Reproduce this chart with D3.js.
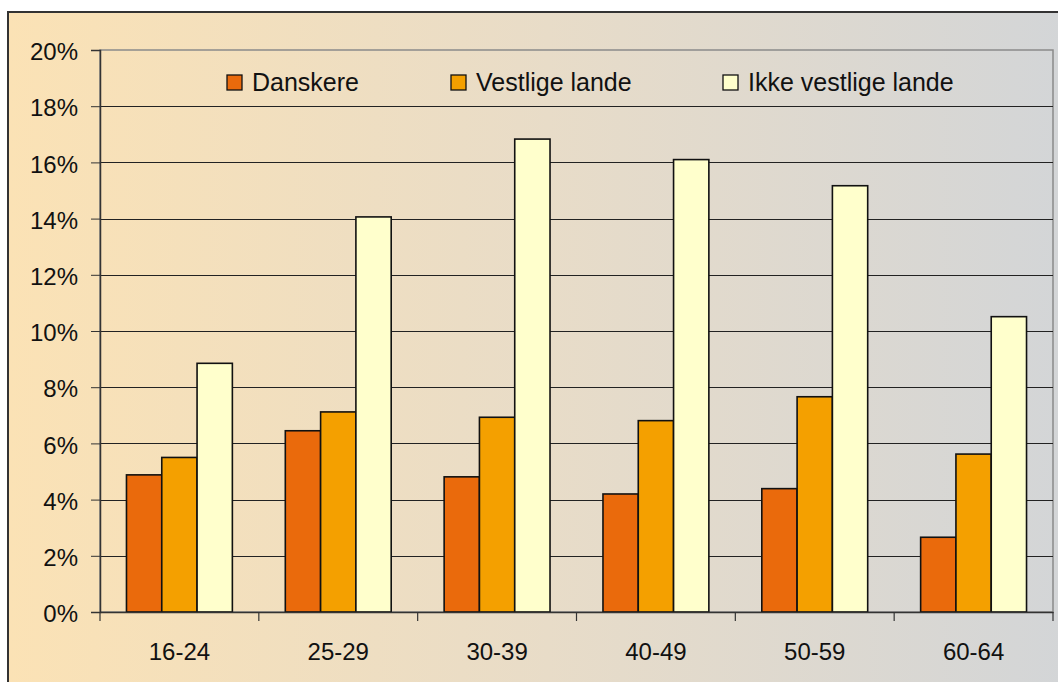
<!DOCTYPE html>
<html>
<head>
<meta charset="utf-8">
<script src="https://cdn.jsdelivr.net/npm/d3@7"></script>
<style>
  body { margin: 0; background: #fff; }
  svg { display: block; font-family: "Liberation Sans", Arial, sans-serif; }
</style>
</head>
<body>
<svg id="chart" width="1058" height="682"></svg>
<script>
// --- Data ---
const categories = ['16-24', '25-29', '30-39', '40-49', '50-59', '60-64'];
const seriesNames = ['Danskere', 'Vestlige lande', 'Ikke vestlige lande'];
const danskere = [4.88, 6.45, 4.81, 4.2, 4.39, 2.66];
const vestlige = [5.5, 7.12, 6.93, 6.81, 7.66, 5.62];
const ikkeVestlige = [8.85, 14.06, 16.83, 16.1, 15.17, 10.51];
const yTicks = [0, 2, 4, 6, 8, 10, 12, 14, 16, 18, 20];

// --- Colors ---
const colors = ['#EA6A0C', '#F4A000', '#FFFFCC'];

const svg = d3.select('#chart');
const values = [danskere, vestlige, ikkeVestlige];
const FONT = '"Liberation Sans", Arial, sans-serif';

// --- Background + outer frame ---
const defs = svg.append('defs');
const grad = defs.append('linearGradient').attr('id', 'bg')
  .attr('x1', '0%').attr('x2', '100%').attr('y1', '0%').attr('y2', '0%');
grad.append('stop').attr('offset', '0%').attr('stop-color', '#FBE2B5');
grad.append('stop').attr('offset', '50%').attr('stop-color', '#E8DCC8');
grad.append('stop').attr('offset', '100%').attr('stop-color', '#D2D5D8');

svg.append('rect')
  .attr('x', 8).attr('y', 12).attr('width', 1080).attr('height', 700)
  .attr('fill', 'url(#bg)').attr('stroke', '#333').attr('stroke-width', 2);

// --- Scales ---
const plot = { left: 100, right: 1053, top: 50, bottom: 612 };

const x = d3.scaleBand().domain(categories).range([plot.left, plot.right]).padding(0);
const bw = x.bandwidth();
// gap width 150%: bars take 3/4.5 of each category band
const xs = d3.scaleBand().domain(seriesNames).range([bw / 6, bw * 5 / 6]).padding(0);
const y = d3.scaleLinear().domain([0, 20]).range([plot.bottom, plot.top]);

// plot area border (top/right grey)
svg.append('rect')
  .attr('x', plot.left).attr('y', plot.top)
  .attr('width', plot.right - plot.left).attr('height', plot.bottom - plot.top)
  .attr('fill', 'none').attr('stroke', '#8a8a8a').attr('stroke-width', 1.5);

// gridlines
svg.append('g')
  .selectAll('line')
  .data(yTicks.filter(d => d > 0 && d < 20))
  .enter().append('line')
  .attr('x1', plot.left).attr('x2', plot.right)
  .attr('y1', d => Math.round(y(d)) + 0.5).attr('y2', d => Math.round(y(d)) + 0.5)
  .attr('stroke', '#222').attr('stroke-width', 1);

// --- Bars ---
const groups = svg.append('g')
  .selectAll('g')
  .data(categories)
  .enter().append('g')
  .attr('transform', d => `translate(${x(d)},0)`);

groups.selectAll('rect')
  .data((c, i) => seriesNames.map((s, j) => ({ s, j, v: values[j][i] })))
  .enter().append('rect')
  .attr('x', d => xs(d.s))
  .attr('y', d => y(d.v))
  .attr('width', xs.bandwidth())
  .attr('height', d => y(0) - y(d.v))
  .attr('fill', d => colors[d.j])
  .attr('stroke', '#111')
  .attr('stroke-width', 1.6);

// --- Axes ---
const yAxis = svg.append('g')
  .attr('transform', `translate(${plot.left},0)`)
  .call(d3.axisLeft(y).tickValues(yTicks).tickSize(9).tickPadding(13)
    .tickFormat(d => d + '%'));
yAxis.select('.domain').attr('stroke', '#333').attr('stroke-width', 1.5);
yAxis.selectAll('.tick line').attr('stroke', '#333');
yAxis.selectAll('text').attr('font-size', 24).attr('fill', '#111')
  .attr('font-family', FONT).attr('y', 2);

const xAxis = svg.append('g')
  .attr('transform', `translate(0,${plot.bottom})`)
  .call(d3.axisBottom(x).tickSize(0));
xAxis.select('.domain').attr('stroke', '#333').attr('stroke-width', 1.5);
xAxis.selectAll('text').attr('font-size', 24).attr('fill', '#111')
  .attr('font-family', FONT).attr('dy', null).attr('y', 48);

// category separator ticks
svg.append('g')
  .selectAll('line')
  .data(categories.concat(['end']))
  .enter().append('line')
  .attr('x1', d => d === 'end' ? plot.right : x(d))
  .attr('x2', d => d === 'end' ? plot.right : x(d))
  .attr('y1', plot.bottom).attr('y2', plot.bottom + 9)
  .attr('stroke', '#333').attr('stroke-width', 1.2);

// --- Legend ---
const legendX = [227, 451, 723];
const legend = svg.append('g')
  .selectAll('g')
  .data(seriesNames)
  .enter().append('g')
  .attr('transform', (d, i) => `translate(${legendX[i]},75)`);

legend.append('rect')
  .attr('width', 15).attr('height', 15)
  .attr('fill', (d, i) => colors[i])
  .attr('stroke', '#111').attr('stroke-width', 1.3);

legend.append('text')
  .attr('x', 25).attr('y', 16)
  .attr('font-size', 25).attr('fill', '#111')
  .text(d => d);
</script>
</body>
</html>
